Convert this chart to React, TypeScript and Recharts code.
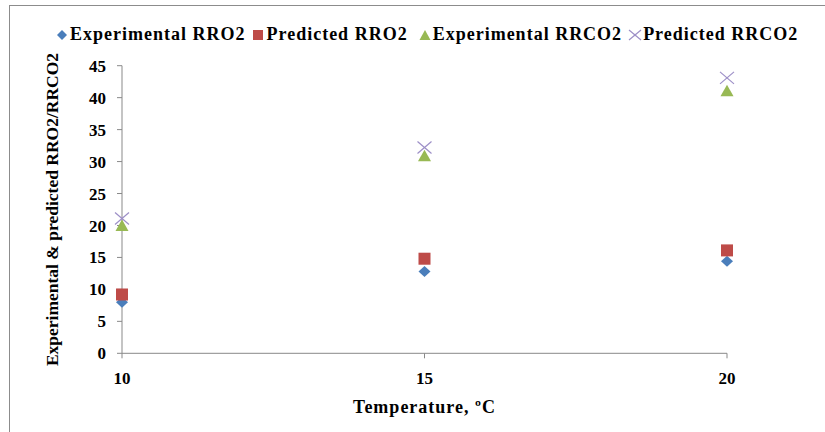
import React from 'react';
import { ScatterChart, Scatter, XAxis, YAxis, Legend } from 'recharts';

const temperatures = [10, 15, 20];
const expRRO2 = [8.0, 12.8, 14.4];
const predRRO2 = [9.2, 14.8, 16.1];
const expRRCO2 = [20.0, 30.9, 41.1];
const predRRCO2 = [21.1, 32.2, 43.1];
const xTicks = [10, 15, 20];
const yTicks = [0, 5, 10, 15, 20, 25, 30, 35, 40, 45];

const seriesNames = ['Experimental RRO2', 'Predicted RRO2', 'Experimental RRCO2', 'Predicted RRCO2'];
const colors = ['#4a7ebb', '#be4b48', '#98b954', '#9d8fc7'];

const toPoints = (vals: number[]) => temperatures.map((t, i) => ({ x: t, y: vals[i] }));

const FONT = '"Liberation Serif", "Times New Roman", serif';

const Diamond = (p: any) => (
  <polygon
    points={`${p.cx},${p.cy - 5.5} ${p.cx + 6},${p.cy} ${p.cx},${p.cy + 5.5} ${p.cx - 6},${p.cy}`}
    fill={colors[0]}
  />
);
const Square = (p: any) => <rect x={p.cx - 6} y={p.cy - 6} width={12} height={12} fill={colors[1]} />;
const Triangle = (p: any) => (
  <polygon
    points={`${p.cx},${p.cy - 6} ${p.cx + 6.5},${p.cy + 5.5} ${p.cx - 6.5},${p.cy + 5.5}`}
    fill={colors[2]}
  />
);
const Cross = (p: any) => (
  <g stroke={colors[3]} strokeWidth={1.2}>
    <line x1={p.cx - 7} y1={p.cy - 6} x2={p.cx + 7} y2={p.cy + 6} />
    <line x1={p.cx - 7} y1={p.cy + 6} x2={p.cx + 7} y2={p.cy - 6} />
  </g>
);

const legendIcons = [
  <polygon points="7,2 12,7 7,12 2,7" fill={colors[0]} />,
  <rect x={2} y={2} width={10} height={10} fill={colors[1]} />,
  <polygon points="7,2 12.5,12 1.5,12" fill={colors[2]} />,
  <g stroke={colors[3]} strokeWidth={1.2}>
    <line x1={1} y1={2} x2={13} y2={12} />
    <line x1={1} y1={12} x2={13} y2={2} />
  </g>,
];

const LegendContent = () => (
  <div style={{ display: 'flex', alignItems: 'center', paddingLeft: 55, fontFamily: FONT, fontWeight: 'bold', fontSize: 18, letterSpacing: 1, color: '#000', whiteSpace: 'nowrap' }}>
    {seriesNames.map((n, i) => (
      <div key={n} style={{ display: 'flex', alignItems: 'center', marginRight: i === 1 ? 10 : 6 }}>
        <svg width={14} height={14} style={{ marginRight: 1 }}>{legendIcons[i]}</svg>
        <span>{n}</span>
      </div>
    ))}
  </div>
);

const tickStyle = { fontFamily: FONT, fontWeight: 'bold' as const, fontSize: 17, fill: '#000' };

export default function App() {
  return (
    <div style={{ position: 'absolute', left: 0, top: 0, width: 825, height: 432, overflow: 'hidden', background: '#fff' }}>
      <div style={{ position: 'absolute', left: 9, top: 5, width: 900, height: 500, border: '1px solid #8c8c8c' }} />
      <div style={{ position: 'absolute', left: 0, top: 0 }}>
        <ScatterChart width={825} height={432} margin={{ top: 65.7, right: 98, bottom: 48.7, left: 72 }}>
          <XAxis
            type="number"
            dataKey="x"
            domain={[10, 20]}
            ticks={xTicks}
            stroke="#898989"
            tickLine={{ stroke: '#898989' }}
            tickSize={5}
            tickMargin={14}
            tick={tickStyle}
            height={30}
            label={(props: any) => {
              const vb = props.viewBox;
              return (
                <text x={vb.x + vb.width / 2} y={vb.y + 54} textAnchor="middle" dominantBaseline="central" style={{ fontFamily: FONT, fontWeight: 'bold', fontSize: 18, letterSpacing: 1 }} fill="#000">
                  Temperature, ºC
                </text>
              );
            }}
          />
          <YAxis
            type="number"
            dataKey="y"
            domain={[0, 45]}
            ticks={yTicks}
            stroke="#898989"
            tickLine={{ stroke: '#898989' }}
            tickSize={5}
            tickMargin={11}
            tick={tickStyle}
            width={50}
            label={(props: any) => {
              const vb = props.viewBox;
              const cx = vb.x + vb.width - 70;
              const cy = vb.y + vb.height / 2;
              return (
                <text x={cx} y={cy} transform={`rotate(-90, ${cx}, ${cy})`} textAnchor="middle" dominantBaseline="central" style={{ fontFamily: FONT, fontWeight: 'bold', fontSize: 17.5 }} fill="#000">
                  Experimental &amp; predicted RRO2/RRCO2
                </text>
              );
            }}
          />
          <Legend
            layout="vertical"
            align="center"
            verticalAlign="middle"
            content={<LegendContent />}
            wrapperStyle={{ top: 24, left: 0, width: 825, height: 20 }}
          />
          <Scatter name={seriesNames[0]} data={toPoints(expRRO2)} shape={Diamond} isAnimationActive={false} />
          <Scatter name={seriesNames[1]} data={toPoints(predRRO2)} shape={Square} isAnimationActive={false} />
          <Scatter name={seriesNames[2]} data={toPoints(expRRCO2)} shape={Triangle} isAnimationActive={false} />
          <Scatter name={seriesNames[3]} data={toPoints(predRRCO2)} shape={Cross} isAnimationActive={false} />
        </ScatterChart>
      </div>
    </div>
  );
}
